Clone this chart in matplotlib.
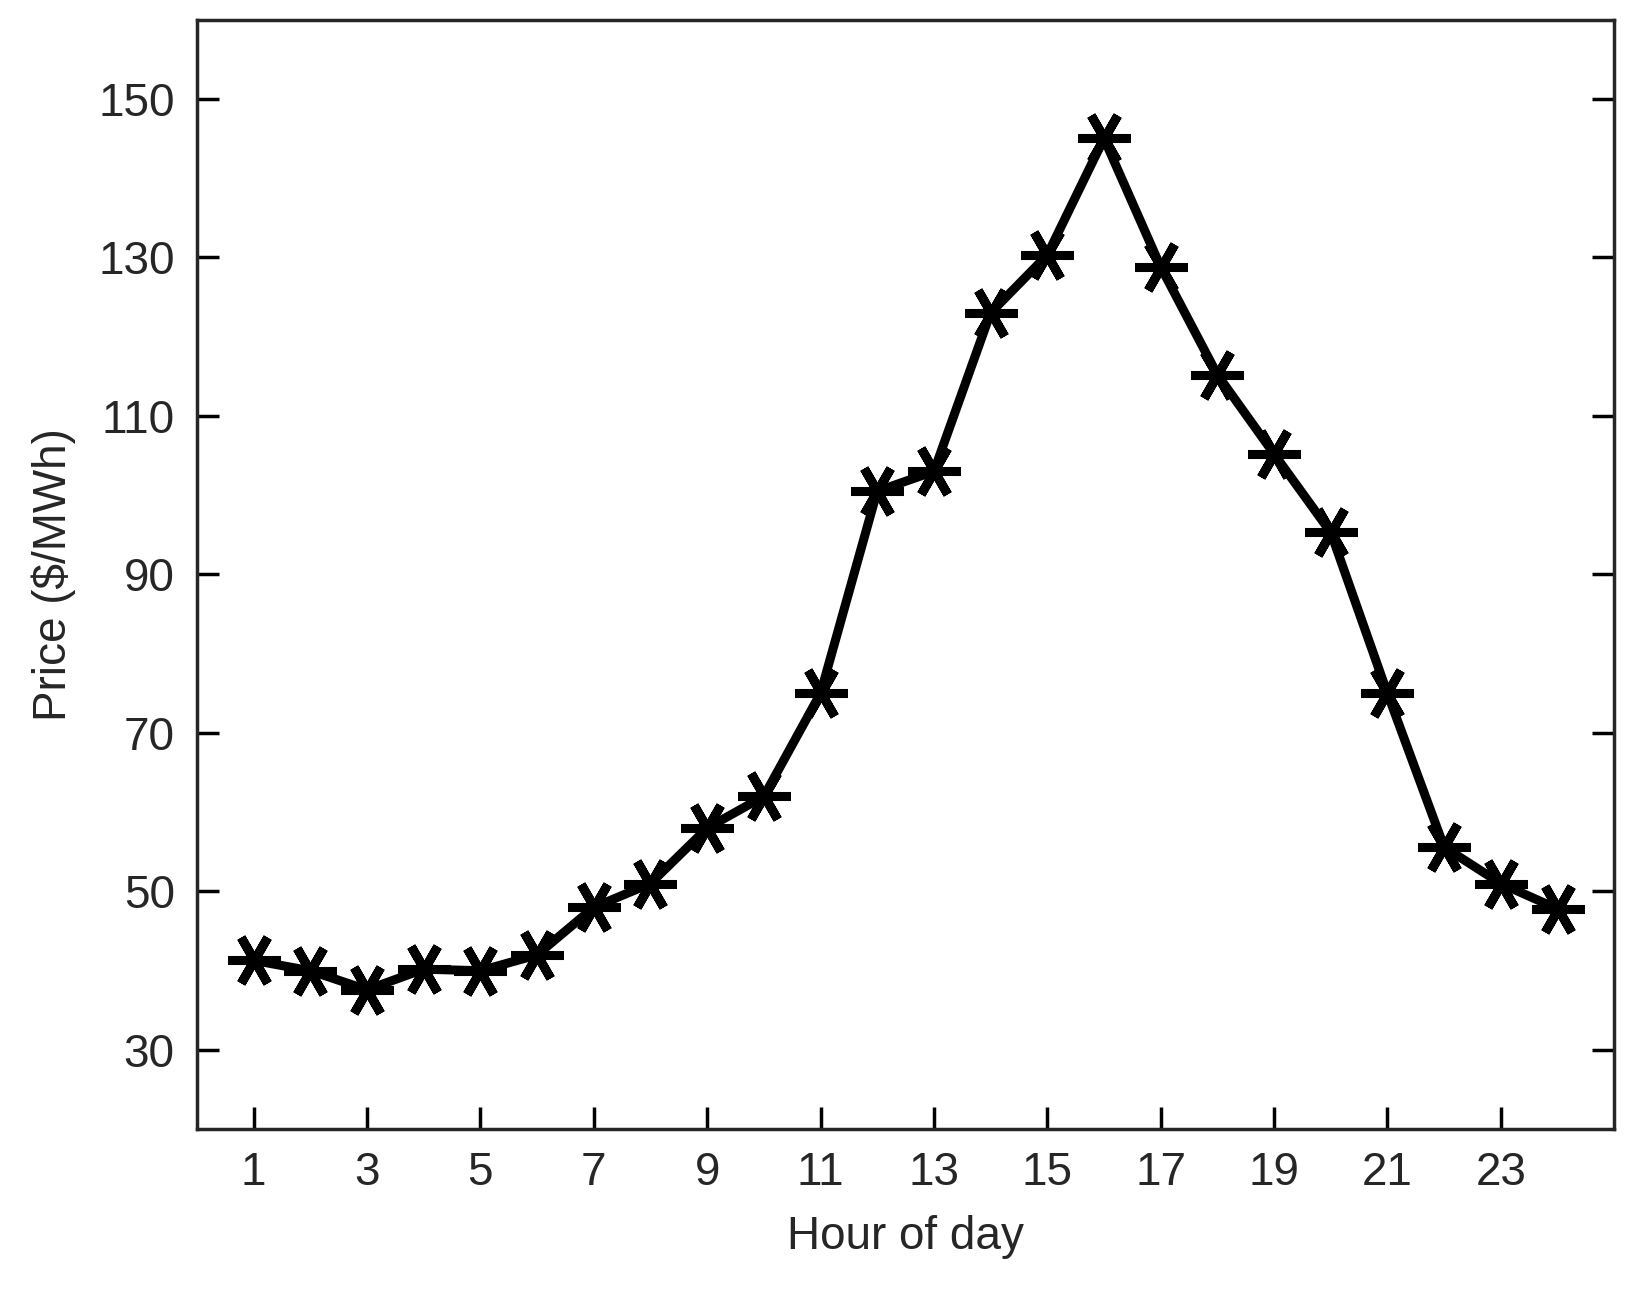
import matplotlib
matplotlib.use("Agg")
import matplotlib.pyplot as plt

hours = list(range(1, 25))
price = [41.3, 40, 37.6, 40.2, 40, 42, 48, 51, 58, 62, 75, 100.5, 103, 123, 130.3, 145,
         128.8, 115.2, 105.2, 95.3, 75, 55.6, 51, 47.8]
xticks = list(range(1, 24, 2))
yticks = list(range(30, 151, 20))

plt.rcParams['font.family'] = ['Arial', 'Liberation Sans', 'DejaVu Sans']
fig = plt.figure(figsize=(16.48, 13.04), dpi=100)
ax = fig.add_axes([0.1195, 0.134, 0.860, 0.851])
ax.plot(hours, price, color='black', lw=6.5, marker=(6, 2, 90), ms=38, mew=6.5)
ax.set_xlim(0, 25)
ax.set_ylim(20, 160)
ax.set_xticks(xticks)
ax.set_yticks(yticks)
ax.tick_params(direction='in', length=16, width=2.5, labelsize=33, labelcolor='#262626',
               right=True, pad=16)
for s in ax.spines.values():
    s.set_linewidth(2.5)
    s.set_color('#262626')
ax.set_xlabel('Hour of day', fontsize=33, color='#262626', labelpad=14)
ax.set_ylabel('Price ($/MWh)', fontsize=33, color='#262626', labelpad=16)
fig.savefig('out.png', dpi=100)
